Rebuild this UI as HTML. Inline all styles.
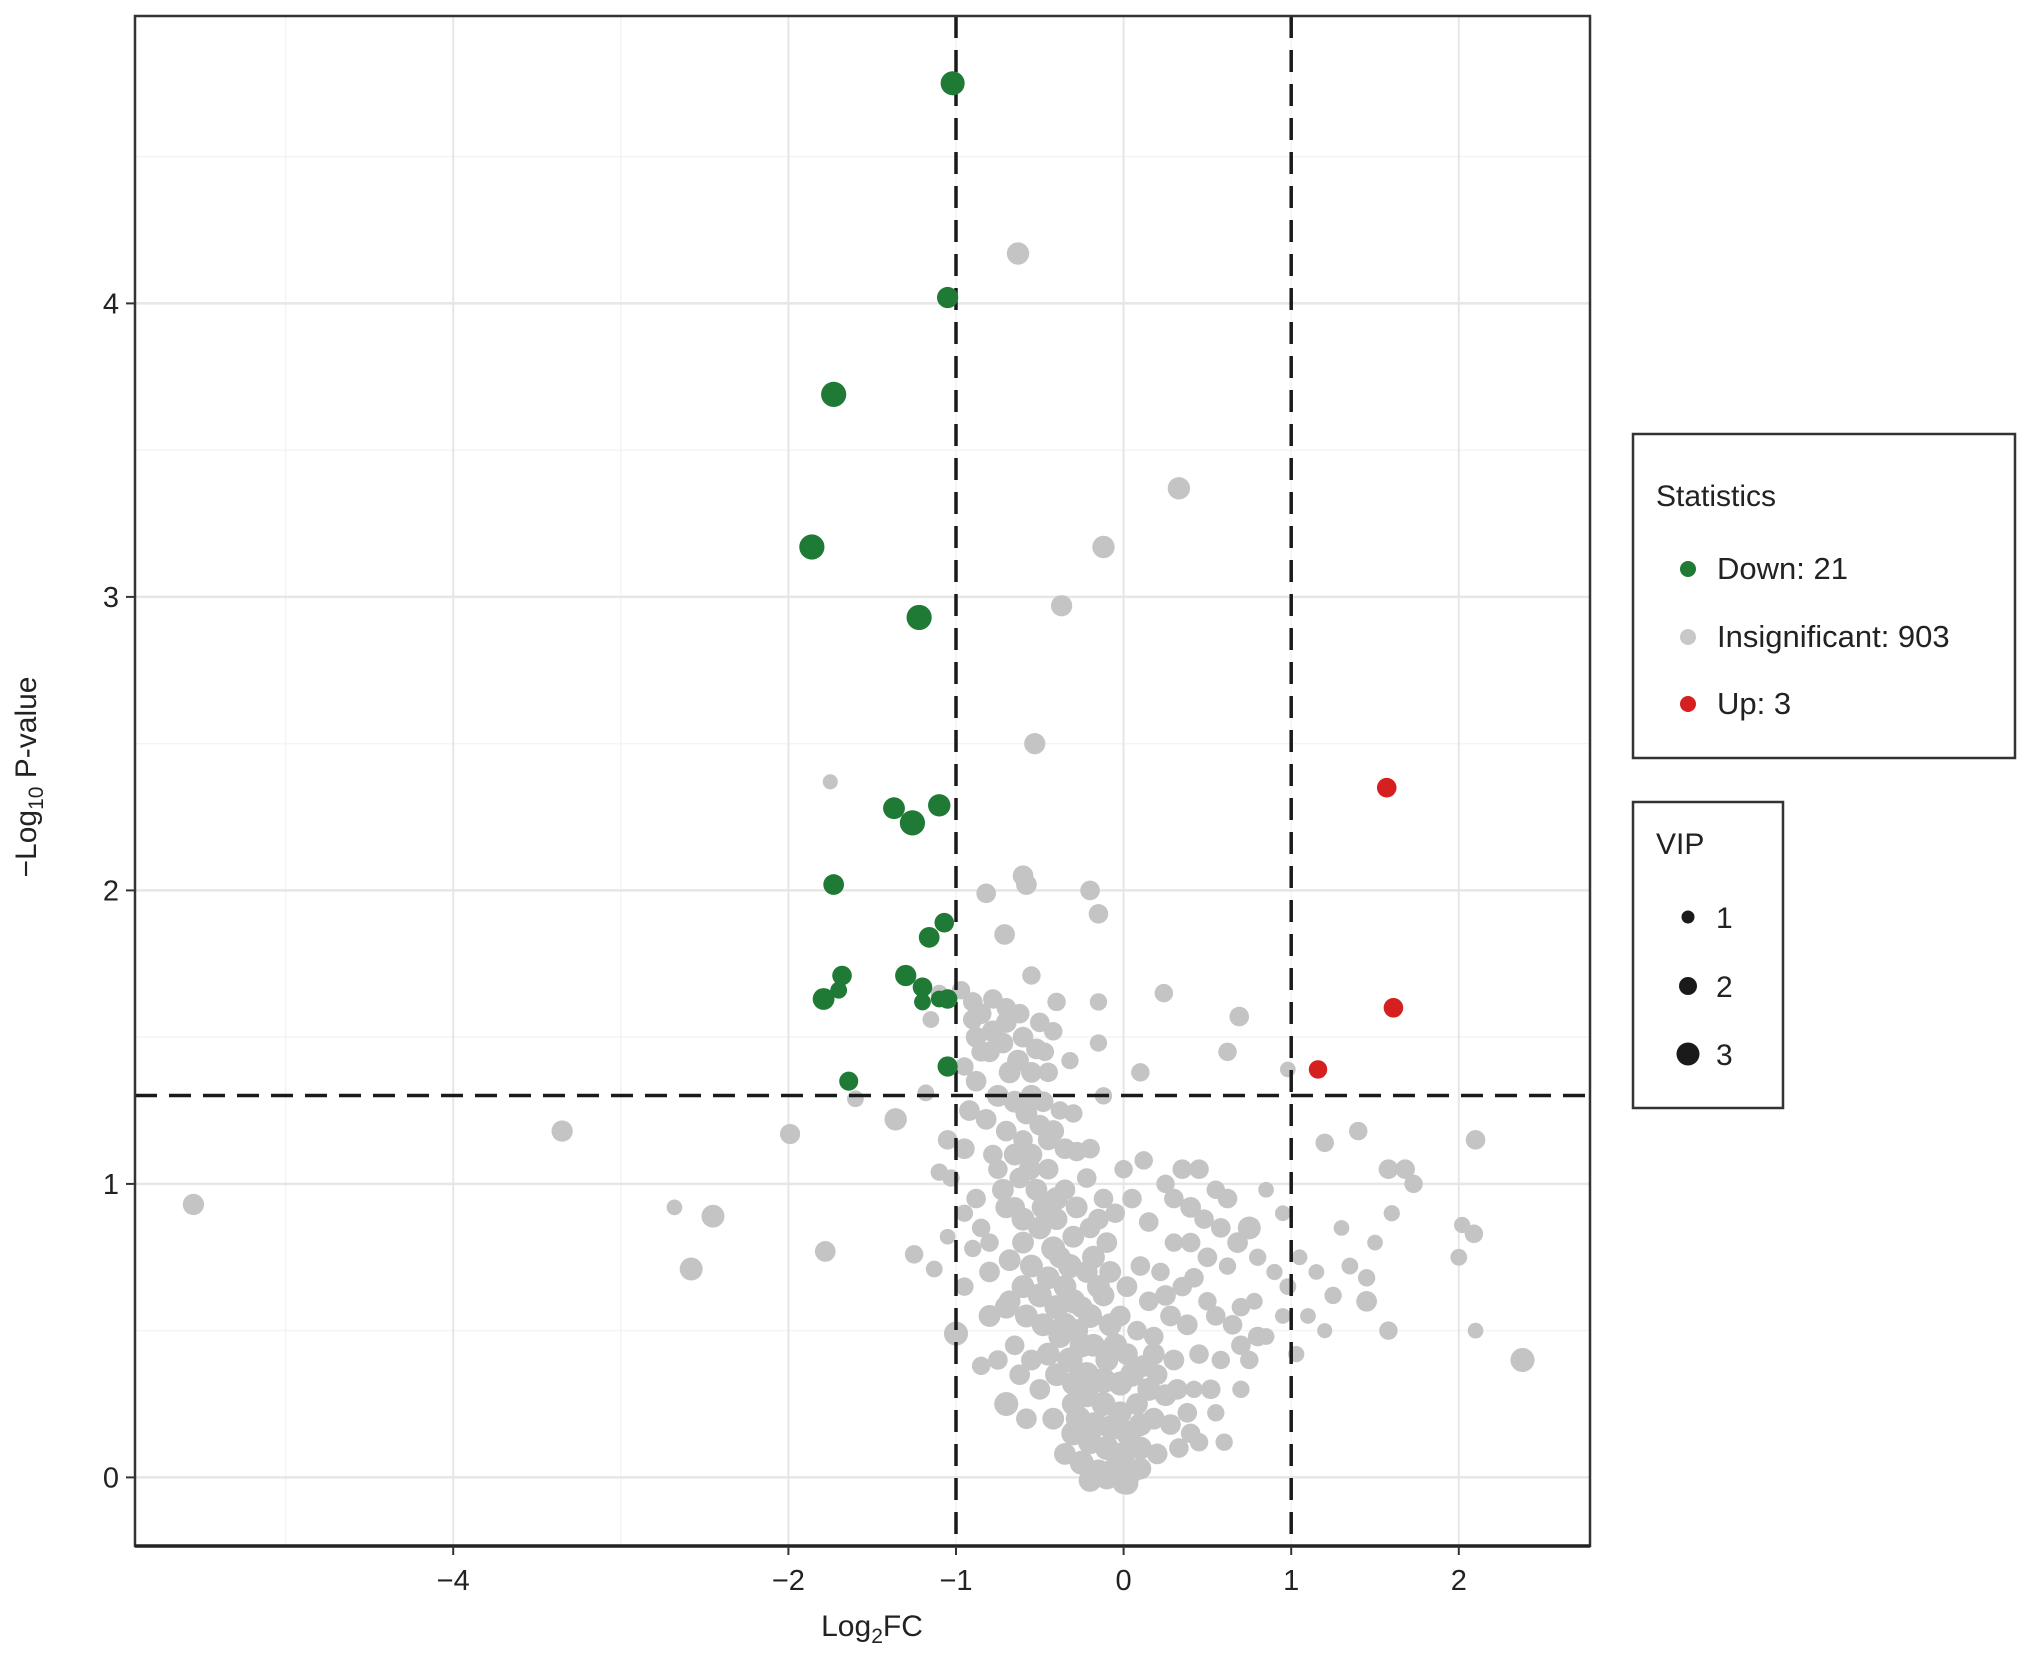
<!DOCTYPE html>
<html><head><meta charset="utf-8">
<style>
html,body{margin:0;padding:0;background:#fff;}
svg{display:block;font-family:"Liberation Sans",sans-serif;}
</style></head>
<body>
<svg id="chart" width="2032" height="1657" viewBox="0 0 2032 1657" xmlns="http://www.w3.org/2000/svg">
<g id="grid"></g>
<g id="grey"></g>
<g id="lines"></g>
<g id="sig"></g>
<g id="axes"></g>
<text x="872" y="1636" font-size="30" text-anchor="middle" fill="#222">Log<tspan font-size="21" dy="7">2</tspan><tspan dy="-7">FC</tspan></text>
<text transform="translate(36,777) rotate(-90)" font-size="30" text-anchor="middle" fill="#222">−Log<tspan font-size="21" dy="7">10</tspan><tspan dy="-7"> P-value</tspan></text>
<g>
<rect x="1633" y="434" width="382" height="324" fill="#fff" stroke="#333" stroke-width="2.5"/>
<text x="1656" y="506" font-size="30" fill="#222">Statistics</text>
<circle cx="1688" cy="569" r="8" fill="#1e7a35"/><text x="1717" y="579" font-size="31" fill="#222">Down: 21</text>
<circle cx="1688" cy="637" r="8" fill="#c8c8c8"/><text x="1717" y="647" font-size="31" fill="#222">Insignificant: 903</text>
<circle cx="1688" cy="704" r="8" fill="#d62020"/><text x="1717" y="714" font-size="31" fill="#222">Up: 3</text>
</g>
<g>
<rect x="1633" y="802" width="150" height="306" fill="#fff" stroke="#333" stroke-width="2.5"/>
<text x="1656" y="854" font-size="30" fill="#222">VIP</text>
<circle cx="1688" cy="917" r="6.5" fill="#1a1a1a"/><text x="1716" y="928" font-size="30" fill="#222">1</text>
<circle cx="1688" cy="986" r="9" fill="#1a1a1a"/><text x="1716" y="997" font-size="30" fill="#222">2</text>
<circle cx="1688" cy="1054" r="11.5" fill="#1a1a1a"/><text x="1716" y="1065" font-size="30" fill="#222">3</text>
</g>
</svg>
<script>
const xTicks=[-4,-2,-1,0,1,2];
const yTicks=[0,1,2,3,4];
const fcThreshold=[-1,1];
const pThreshold=1.301;
const downX=[-1.02,-1.05,-1.73,-1.86,-1.22,-1.10,-1.37,-1.26,-1.73,-1.07,-1.16,-1.68,-1.30,-1.20,-1.79,-1.05,-1.05,-1.64,-1.10,-1.70,-1.20];
const downY=[4.75,4.02,3.69,3.17,2.93,2.29,2.28,2.23,2.02,1.89,1.84,1.71,1.71,1.67,1.63,1.63,1.40,1.35,1.63,1.66,1.62];
const downVip=[2.8,2.3,3.0,3.0,3.0,2.5,2.4,3.0,2.2,2.0,2.2,2.0,2.3,2.0,2.4,2.0,2.1,1.9,1.5,1.5,1.5];
const upX=[1.57,1.61,1.16];
const upY=[2.35,1.60,1.39];
const upVip=[2.0,2.0,1.8];
const greyPts=[
[-0.63,4.17,2.5],[0.33,3.37,2.5],[-0.12,3.17,2.5],[-0.37,2.97,2.3],[-0.53,2.50,2.3],[-1.75,2.37,1.2],
[-0.60,2.05,2.2],[-0.58,2.02,2.2],[-0.82,1.99,2.0],[-0.20,2.00,2.0],[-0.15,1.92,2.0],[-0.71,1.85,2.2],
[-5.55,0.93,2.3],[-3.35,1.18,2.3],[-1.99,1.17,2.1],[-2.68,0.92,1.3],[-2.45,0.89,2.6],[-2.58,0.71,2.6],
[-1.78,0.77,2.2],[-1.60,1.29,1.5],[-1.36,1.22,2.5],[-1.25,0.76,1.8],[-1.13,0.71,1.5],[-1.00,0.49,2.8],
[2.38,0.40,2.8],[2.10,1.15,2.0],[2.02,0.86,1.4],[2.09,0.83,1.8],[2.00,0.75,1.5],[2.10,0.50,1.3],
[1.58,0.50,1.8],[1.73,1.00,1.8],[1.58,1.05,2.0],[1.68,1.05,2.0],[1.40,1.18,1.8],[1.20,1.14,1.8],
[0.24,1.65,1.8],[0.69,1.57,2.0],[0.62,1.45,1.8],[0.10,1.38,1.8],[0.98,1.39,1.3],[-0.55,1.71,1.8],
[-1.15,1.56,1.5],[-1.10,1.65,1.5],[-1.05,1.15,2.0],[-1.10,1.04,1.6],[-1.03,1.02,1.6],[-1.18,1.31,1.5],
[-0.97,1.66,1.8],[-0.90,1.62,2.0],[-0.85,1.58,2.2],[-0.78,1.63,2.0],[-0.70,1.60,2.0],[-0.62,1.58,2.0],
[-0.50,1.55,2.0],[-0.40,1.62,1.8],[-0.42,1.52,1.8],[-0.15,1.62,1.6],[-0.15,1.48,1.6],[-0.88,1.50,2.2],
[-0.80,1.45,2.2],[-0.72,1.48,2.2],[-0.63,1.42,2.4],[-0.55,1.38,2.2],[-0.47,1.45,1.8],[-0.32,1.42,1.6],
[-0.95,1.40,1.8],[-0.88,1.35,2.2],[-0.75,1.30,2.4],[-0.65,1.28,2.4],[-0.58,1.24,2.4],[-0.50,1.20,2.2],
[-0.92,1.25,2.2],[-0.82,1.22,2.2],[-0.70,1.18,2.2],[-0.60,1.15,2.0],[-0.38,1.25,1.8],[-0.30,1.24,1.8],
[-0.12,1.30,1.6],[-0.28,1.11,2.0],[-0.20,1.12,2.0],[-0.95,1.12,2.2],[-0.75,1.05,2.0],[-0.62,1.02,2.2],
[-0.52,0.98,2.4],[-0.45,1.05,2.2],[-0.35,0.98,2.2],[-0.22,1.02,2.0],[-0.12,0.95,2.0],[-0.88,0.95,2.0],
[-0.95,0.90,1.6],[-0.70,0.92,2.4],[-0.60,0.88,2.6],[-0.50,0.85,2.6],[-0.40,0.88,2.4],[-0.30,0.82,2.4],
[-0.20,0.85,2.2],[-0.10,0.80,2.2],[0.05,0.95,2.0],[0.12,1.08,1.8],[0.25,1.00,1.8],[0.35,1.05,2.0],
[0.45,1.05,2.0],[0.55,0.98,1.8],[0.62,0.95,2.0],[0.75,0.85,2.6],[0.85,0.98,1.3],[0.95,0.90,1.3],
[0.15,0.87,2.0],[0.30,0.80,1.8],[0.40,0.80,2.0],[0.50,0.75,2.0],[0.62,0.72,1.6],[0.78,0.60,1.5],
[0.85,0.48,1.5],[0.95,0.55,1.3],[0.98,0.65,1.5],[1.05,0.75,1.3],[1.15,0.70,1.3],[1.25,0.62,1.6],
[1.10,0.55,1.3],[1.35,0.72,1.5],[1.45,0.68,1.6],[1.30,0.85,1.3],[1.50,0.80,1.3],[1.60,0.90,1.4],
[1.45,0.60,2.2],[1.20,0.50,1.2],[1.03,0.42,1.4],[0.70,0.45,2.0],[0.58,0.40,1.8],[0.70,0.30,1.6],
[0.55,0.22,1.6],[0.60,0.12,1.6],[-0.95,0.65,1.8],[-0.80,0.70,2.2],[-0.68,0.74,2.4],[-0.55,0.72,2.6],
[-0.45,0.68,2.6],[-0.35,0.65,2.6],[-0.22,0.70,2.4],[-0.12,0.62,2.4],[-0.02,0.55,2.2],[0.08,0.50,2.0],
[0.18,0.48,2.0],[0.28,0.55,2.2],[0.38,0.52,2.2],[0.45,0.42,2.0],[0.30,0.40,2.2],[0.20,0.35,2.2],
[-0.80,0.55,2.4],[-0.70,0.58,2.6],[-0.58,0.55,2.6],[-0.48,0.52,2.6],[-0.38,0.48,2.6],[-0.28,0.50,2.6],
[-0.18,0.45,2.6],[-0.10,0.40,2.6],[0.02,0.42,2.4],[0.12,0.38,2.4],[-0.85,0.38,1.8],[-0.70,0.25,2.8],
[-0.58,0.20,2.2],[-0.50,0.30,2.2],[-0.40,0.35,2.6],[-0.30,0.32,2.6],[-0.22,0.28,2.8],[-0.12,0.25,2.8],
[-0.02,0.22,2.6],[0.08,0.25,2.4],[0.18,0.20,2.4],[0.28,0.18,2.2],[0.38,0.22,2.0],[0.45,0.12,1.8],
[-0.30,0.15,2.8],[-0.20,0.12,2.8],[-0.10,0.10,2.8],[0.00,0.08,2.8],[0.10,0.10,2.6],[0.20,0.08,2.2],
[-0.25,0.05,2.8],[-0.15,0.02,2.8],[-0.05,0.03,2.8],[0.05,0.02,2.6],[0.00,-0.02,2.4],[-0.30,0.25,2.6],
[-0.55,0.40,2.2],[-0.65,0.45,2.0],[-0.90,0.78,1.6],[-0.85,0.85,1.8],[-0.78,1.10,2.0],[-0.80,0.80,1.8],
[-0.55,1.10,2.4],[-0.45,1.15,2.2],[-0.38,0.75,2.4],[-0.25,0.58,2.4],[0.15,0.60,2.0],[0.35,0.65,2.0],
[0.22,0.70,1.8],[0.50,0.60,1.8],[0.42,0.30,1.6],[-1.05,0.82,1.3],[0.80,0.75,1.6],[0.90,0.70,1.4],
[-0.27,0.20,3.0],[-0.17,0.18,3.0],[-0.07,0.17,3.0],[0.03,0.15,3.0],[-0.22,0.35,3.0],[-0.12,0.33,3.0],
[-0.02,0.32,2.8],[-0.32,0.40,3.0],[-0.20,0.55,2.8],[-0.30,0.60,2.8],[-0.40,0.58,2.8],[-0.50,0.62,2.8],
[-0.60,0.65,2.6],[-0.42,0.78,2.8],[-0.32,0.72,2.8],[-0.48,0.92,2.6],[-0.55,1.30,2.4],[-0.68,1.38,2.4],
[-0.78,1.52,2.4],[-0.70,1.55,2.2],[-0.60,1.50,2.2],[-0.52,1.46,2.2],[-0.45,1.38,2.0],[-0.85,1.45,2.0],
[-0.90,1.56,2.0],[-0.48,1.28,2.2],[-0.42,1.18,2.4],[-0.35,1.12,2.2],[-0.65,1.10,2.4],[-0.72,0.98,2.4],
[-0.56,1.05,2.4],[-0.40,0.95,2.6],[-0.28,0.92,2.4],[-0.18,0.75,2.6],[-0.08,0.70,2.4],[0.02,0.65,2.2],
[0.10,0.72,2.0],[0.25,0.62,2.2],[0.32,0.30,2.2],[0.25,0.28,2.4],[0.15,0.30,2.6],[0.10,0.18,2.6],
[0.18,0.42,2.4],[-0.08,0.52,2.6],[-0.15,0.65,2.6],[-0.35,0.52,2.8],[-0.45,0.42,2.6],[-0.62,0.35,2.2],
[-0.75,0.40,2.0],[-0.68,0.60,2.4],[-0.60,0.80,2.4],[-0.65,0.92,2.2],[0.40,0.92,2.2],[0.30,0.95,2.0],
[0.48,0.88,2.0],[0.58,0.85,2.0],[0.68,0.80,2.2],[0.55,0.55,2.0],[0.42,0.68,2.0],[0.70,0.58,1.8],
[0.80,0.48,2.0],[0.65,0.52,2.0],[0.75,0.40,1.8],[0.52,0.30,2.0],[0.40,0.15,2.0],[0.33,0.10,2.0],
[-0.10,0.00,2.8],[0.02,-0.02,2.6],[-0.20,-0.01,2.6],[0.10,0.03,2.4],[-0.35,0.08,2.4],[-0.42,0.20,2.4],
[-0.05,0.45,2.8],[0.05,0.35,2.8],[-0.25,0.45,2.8],[-0.15,0.88,2.2],[-0.05,0.90,2.0],[0.00,1.05,1.8]
];
const X0=1123.6, PX=167.6, Y0=1477.4, PY=293.5;
const L=135,R=1590,T=16,B=1546;
const sx=v=>X0+v*PX, sy=v=>Y0-v*PY, rad=v=>4.2+2.8*v;
const NS="http://www.w3.org/2000/svg";
function mk(tag,attrs,parent){const e=document.createElementNS(NS,tag);for(const k in attrs)e.setAttribute(k,attrs[k]);parent.appendChild(e);return e;}
const grid=document.getElementById('grid'),axes=document.getElementById('axes');
mk('rect',{x:L,y:T,width:R-L,height:B-T,fill:'#fff'},grid);
for(let v=-5;v<=2.5;v+=1){const g=mk('line',{x1:sx(v),x2:sx(v),y1:T,y2:B,stroke:'#f4f4f4','stroke-width':1.5},grid);

}
for(let v=0.5;v<=5;v+=1){const g=mk('line',{x1:L,x2:R,y1:sy(v),y2:sy(v),stroke:'#f4f4f4','stroke-width':1.5},grid);

}
[-4,-2,0,2].forEach(v=>{const g=mk('line',{x1:sx(v),x2:sx(v),y1:T,y2:B,stroke:'#e6e6e6','stroke-width':2},grid);

});
yTicks.forEach(v=>{const g=mk('line',{x1:L,x2:R,y1:sy(v),y2:sy(v),stroke:'#e6e6e6','stroke-width':2.5},grid);

});
const grey=document.getElementById('grey');
greyPts.forEach(p=>{const c=mk('circle',{cx:sx(p[0]),cy:sy(p[1]),r:rad(p[2]),fill:'#c4c4c4'},grey);

});
const lines=document.getElementById('lines');
fcThreshold.forEach(v=>{const l=mk('line',{x1:sx(v),x2:sx(v),y1:T,y2:B,stroke:'#1a1a1a','stroke-width':3.5,'stroke-dasharray':'22,12'},lines);

});
const hl=mk('line',{x1:L,x2:R,y1:sy(pThreshold),y2:sy(pThreshold),stroke:'#1a1a1a','stroke-width':3.5,'stroke-dasharray':'22,12'},lines);


const sig=document.getElementById('sig');
downX.forEach((x,i)=>{const c=mk('circle',{cx:sx(x),cy:sy(downY[i]),r:rad(downVip[i]),fill:'#1e7a35'},sig);

});
upX.forEach((x,i)=>{const c=mk('circle',{cx:sx(x),cy:sy(upY[i]),r:rad(upVip[i]),fill:'#d62020'},sig);

});
const fr=mk('rect',{x:L,y:T,width:R-L,height:B-T,fill:'none',stroke:'#333','stroke-width':2.5},axes);


mk('line',{x1:L,x2:R,y1:B,y2:B,stroke:'#222','stroke-width':3.5},axes);
xTicks.forEach(v=>{mk('line',{x1:sx(v),x2:sx(v),y1:B,y2:B+9,stroke:'#333','stroke-width':2},axes);
const t=mk('text',{x:sx(v),y:B+44,'font-size':29,'text-anchor':'middle',fill:'#222'},axes);
t.textContent=v<0?'−'+Math.abs(v):String(v);

});
yTicks.forEach(v=>{mk('line',{x1:L-9,x2:L,y1:sy(v),y2:sy(v),stroke:'#333','stroke-width':2},axes);
const t=mk('text',{x:L-16,y:sy(v)+10,'font-size':29,'text-anchor':'end',fill:'#222'},axes);
t.textContent=String(v);

});
</script>
</body></html>
